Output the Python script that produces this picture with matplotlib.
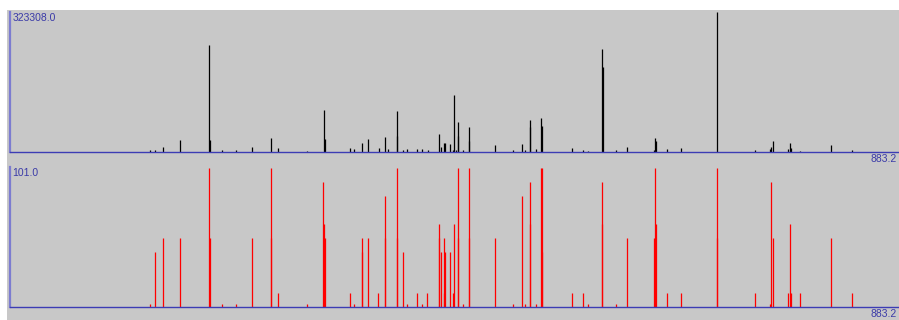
import matplotlib
matplotlib.use("Agg")
import matplotlib.pyplot as plt
from matplotlib.patches import Rectangle

# ---- data: measured spectrum (top) ----
meas_mz = [139.1, 144.4, 151.7, 169.2, 198.0, 198.7, 210.9, 224.2, 240.1, 259.0,
           266.6, 294.8, 312.0, 312.9, 337.5, 341.5, 349.4, 355.4, 366.6, 372.9,
           375.2, 384.2, 384.8, 390.7, 394.7, 404.0, 409.3, 415.0, 426.5, 428.5,
           431.5, 432.5, 436.8, 439.8, 441.4, 443.1, 444.8, 445.4, 450.3, 455.7,
           456.3, 481.8, 499.4, 509.0, 511.3, 516.3, 516.9, 522.3, 527.2, 528.2,
           558.0, 569.6, 574.2, 588.4, 589.1, 602.3, 612.7, 640.1, 641.1, 641.8,
           652.4, 666.6, 702.1, 740.1, 755.0, 756.3, 757.7, 773.2, 774.6, 775.6,
           784.8, 815.3, 836.2]
meas_int = [4600, 4600, 11500, 27700, 247100, 27700, 4600, 4600, 11500, 32300,
            9200, 2300, 97000, 30000, 9200, 6900, 20800, 30000, 9200, 34600,
            6900, 94700, 36900, 4600, 6900, 6900, 6900, 4600, 41600, 11500,
            20800, 20800, 18500, 4600, 131600, 4600, 69300, 36900, 4600, 57700,
            25400, 16200, 4600, 18500, 4600, 57700, 73900, 6900, 78500, 60000,
            9200, 4600, 2300, 237900, 196300, 4600, 11500, 4600, 32300, 25400,
            6900, 9200, 323308, 4600, 6900, 11500, 25400, 6900, 20800, 9200,
            2300, 16200, 4600]

# ---- data: library spectrum (bottom) ----
lib_mz = [139.1, 144.4, 151.7, 169.2, 198.0, 198.7, 210.9, 224.2, 240.1, 259.0,
          259.6, 266.6, 294.8, 311.3, 312.0, 312.9, 337.5, 341.5, 349.4, 349.9,
          355.4, 365.9, 372.3, 372.9, 384.2, 384.8, 390.7, 394.7, 404.0, 409.3,
          414.3, 425.9, 426.5, 428.5, 430.8, 431.5, 432.5, 436.8, 439.8, 441.4,
          444.8, 445.4, 450.3, 455.7, 456.3, 481.8, 499.4, 509.0, 511.3, 516.3,
          516.9, 522.3, 527.2, 528.2, 528.8, 558.0, 569.6, 574.2, 587.8, 588.4,
          602.3, 612.7, 640.1, 641.1, 641.8, 652.4, 666.6, 702.1, 702.8, 740.1,
          755.0, 755.7, 757.7, 773.2, 774.6, 775.6, 784.8, 815.3, 836.2]
lib_int = [2, 40, 50, 50, 100, 50, 2, 2, 50, 100,
           50, 10, 2, 90, 60, 50, 10, 2, 50, 40,
           50, 10, 50, 80, 100, 50, 40, 2, 10, 2,
           10, 50, 60, 40, 10, 50, 40, 40, 10, 60,
           100, 50, 2, 100, 50, 50, 2, 80, 2, 90,
           60, 2, 100, 100, 40, 10, 10, 2, 60, 90,
           2, 50, 50, 100, 60, 10, 10, 100, 50, 10,
           2, 90, 50, 10, 60, 10, 10, 50, 10]

top_label = "323308.0"
bot_label = "101.0"
x_max_label = "883.2"
x_max = 883.2

W, H = 899, 320
fig = plt.figure(figsize=(W / 100, H / 100), dpi=100, facecolor="white")
fig.patches.append(Rectangle((7 / W, 0), 1, (H - 10) / H, transform=fig.transFigure,
                             facecolor="#c8c8c8", edgecolor="none", zorder=-10))

bg = "#c8c8c8"
txt_col = "#3a3aa8"
font = ["Liberation Sans", "DejaVu Sans"]


def setup(ax, top_px, bot_px):
    ax.set_position([10 / W, (H - bot_px) / H, (W - 10) / W, (bot_px - top_px) / H])
    ax.set_facecolor(bg)
    ax.set_xlim(0, x_max)
    for s in ("top", "right"):
        ax.spines[s].set_visible(False)
    ax.spines["left"].set_color("#7c7cd0")
    ax.spines["left"].set_linewidth(1.6)
    ax.spines["bottom"].set_color("#3c3cb4")
    ax.spines["bottom"].set_linewidth(1.0)
    ax.set_xticks([])
    ax.set_yticks([])


ax1 = fig.add_axes([0, 0, 1, 1])
setup(ax1, 12, 152)
ax1.set_ylim(0, 323308)
ax1.vlines(meas_mz, 0, meas_int, colors="black", linewidth=0.9)
ax1.text(0.003, 0.995, top_label, transform=ax1.transAxes, ha="left", va="top",
         fontsize=7.5, color=txt_col, family=font)
ax1.text(0.997, -0.012, x_max_label, transform=ax1.transAxes, ha="right", va="top",
         fontsize=7.5, color=txt_col, family=font)

ax2 = fig.add_axes([0, 0, 1, 1])
setup(ax2, 167, 307)
ax2.set_ylim(0, 101)
ax2.vlines(lib_mz, 0, lib_int, colors="#ff0000", linewidth=0.9)
ax2.text(0.003, 0.995, bot_label, transform=ax2.transAxes, ha="left", va="top",
         fontsize=7.5, color=txt_col, family=font)
ax2.text(0.997, -0.012, x_max_label, transform=ax2.transAxes, ha="right", va="top",
         fontsize=7.5, color=txt_col, family=font)

fig.savefig("out.png", dpi=100, facecolor=fig.get_facecolor())
